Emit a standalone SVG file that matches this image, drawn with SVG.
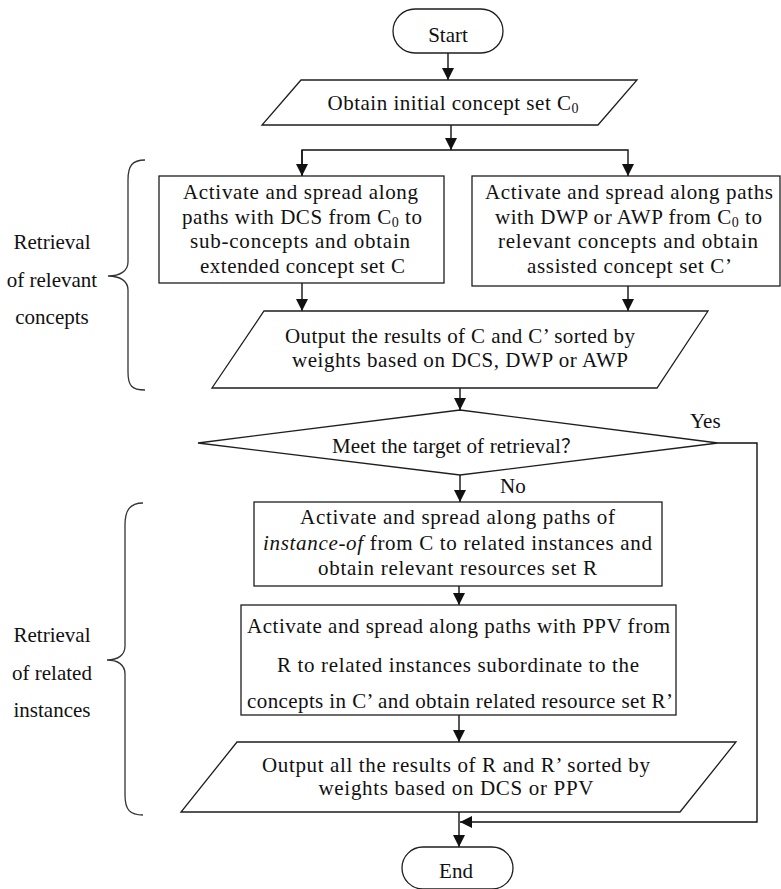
<svg xmlns="http://www.w3.org/2000/svg" width="781" height="889" viewBox="0 0 781 889">
  <style>
    .shape { fill: #ffffff; stroke: #1e1e1e; stroke-width: 1.3; }
    .edge { fill: none; stroke: #111111; stroke-width: 1.4; }
    .brace { fill: none; stroke: #333333; stroke-width: 1.3; }
    .c { text-anchor: middle; }
  </style>
  <defs>
    <marker id="arrow" markerUnits="userSpaceOnUse" markerWidth="12" markerHeight="13" refX="12" refY="6" orient="auto">
      <path d="M0,0 L12,6 L0,12 z" fill="#111111"/>
    </marker>
  </defs>

  <rect width="781" height="889" fill="#ffffff"/>

  <g font-family="Liberation Serif, Times New Roman, serif" font-size="21" fill="#111111">

  <!-- side braces and their labels -->
  <g id="brace-concepts">
    <path class="brace" d="M145,160 C132,160 128,166 128,180 L128,262 C128,271 120,276 108,276 C120,276 128,281 128,290 L128,372 C128,386 132,390 145,390"/>
    <text class="c" x="52" y="249">Retrieval</text>
    <text class="c" x="52" y="287">of relevant</text>
    <text class="c" x="52" y="324">concepts</text>
  </g>
  <g id="brace-instances">
    <path class="brace" d="M143,503 C130,503 125,510 125,525 L125,646 C125,655 118,660 107,660 C118,660 125,665 125,674 L125,795 C125,810 130,815 143,815"/>
    <text class="c" x="52" y="642">Retrieval</text>
    <text class="c" x="52" y="680">of related</text>
    <text class="c" x="52" y="717">instances</text>
  </g>

  <!-- connectors -->
  <g id="connectors">
    <line class="edge" x1="448" y1="53" x2="448" y2="80" marker-end="url(#arrow)"/>
    <line class="edge" x1="451" y1="125" x2="451" y2="150" marker-end="url(#arrow)"/>
    <polyline class="edge" points="302,176 302,150 628,150 628,176" marker-end="url(#arrow)"/>
    <line class="edge" x1="302" y1="150" x2="302" y2="176" marker-end="url(#arrow)"/>
    <line class="edge" x1="302" y1="283" x2="302" y2="311" marker-end="url(#arrow)"/>
    <line class="edge" x1="628" y1="286" x2="628" y2="311" marker-end="url(#arrow)"/>
    <line class="edge" x1="460" y1="388" x2="460" y2="410" marker-end="url(#arrow)"/>
    <line class="edge" x1="460" y1="475" x2="460" y2="502" marker-end="url(#arrow)"/>
    <line class="edge" x1="459" y1="586" x2="459" y2="605" marker-end="url(#arrow)"/>
    <line class="edge" x1="459" y1="715" x2="459" y2="742" marker-end="url(#arrow)"/>
    <line class="edge" x1="459" y1="812" x2="459" y2="847" marker-end="url(#arrow)"/>
    <polyline class="edge" points="718,443 757,443 757,822 460,822" marker-end="url(#arrow)"/>
    <text x="690" y="428">Yes</text>
    <text x="500" y="493">No</text>
  </g>

  <g id="start">
    <rect class="shape" x="393" y="9" width="110" height="44" rx="22" ry="22"/>
    <text class="c" x="448" y="42">Start</text>
  </g>

  <g id="obtain-initial">
    <polygon class="shape" points="301,80 637,80 598,125 262,125"/>
    <text class="c" x="453" y="110" textLength="251" lengthAdjust="spacing">Obtain initial concept set C<tspan font-size="14" dy="3">0</tspan></text>
  </g>

  <g id="spread-dcs">
    <rect class="shape" x="159" y="176" width="285" height="107"/>
    <text class="c" x="300.5" y="199" textLength="235" lengthAdjust="spacing">Activate and spread along</text>
    <text class="c" x="302" y="224" textLength="240" lengthAdjust="spacing">paths with DCS from C<tspan font-size="14" dy="3">0</tspan><tspan dy="-3"> to</tspan></text>
    <text class="c" x="300" y="248" textLength="220" lengthAdjust="spacing">sub-concepts and obtain</text>
    <text class="c" x="302.5" y="273" textLength="205" lengthAdjust="spacing">extended concept set C</text>
  </g>

  <g id="spread-dwp-awp">
    <rect class="shape" x="472" y="176" width="308" height="110"/>
    <text class="c" x="629" y="199" textLength="288" lengthAdjust="spacing">Activate and spread along paths</text>
    <text class="c" x="628.5" y="224" textLength="267" lengthAdjust="spacing">with DWP or AWP from C<tspan font-size="14" dy="3">0</tspan><tspan dy="-3"> to</tspan></text>
    <text class="c" x="628" y="248" textLength="260" lengthAdjust="spacing">relevant concepts and obtain</text>
    <text class="c" x="629.5" y="273" textLength="205" lengthAdjust="spacing">assisted concept set C’</text>
  </g>

  <g id="output-concepts">
    <polygon class="shape" points="264,311 708,311 657,388 212,388"/>
    <text class="c" x="460" y="343" textLength="350" lengthAdjust="spacing">Output the results of C and C’ sorted by</text>
    <text class="c" x="460" y="367" textLength="336" lengthAdjust="spacing">weights based on DCS, DWP or AWP</text>
  </g>

  <g id="target-check">
    <polygon class="shape" points="460,410 718,443 460,475 198,443"/>
    <text class="c" x="456" y="453" textLength="248" lengthAdjust="spacing">Meet the target of retrieval<tspan font-family="Noto Sans CJK SC, sans-serif" font-size="19">？</tspan></text>
  </g>

  <g id="spread-instance-of">
    <rect class="shape" x="254" y="502" width="408" height="84"/>
    <text class="c" x="457.5" y="524" textLength="315" lengthAdjust="spacing">Activate and spread along paths of</text>
    <text class="c" x="457.5" y="550" textLength="389" lengthAdjust="spacing"><tspan font-style="italic">instance-of</tspan> from C to related instances and</text>
    <text class="c" x="457.5" y="575" textLength="279" lengthAdjust="spacing">obtain relevant resources set R</text>
  </g>

  <g id="spread-ppv">
    <rect class="shape" x="241" y="605" width="435" height="110"/>
    <text class="c" x="458.5" y="633" textLength="423" lengthAdjust="spacing">Activate and spread along paths with PPV from</text>
    <text class="c" x="458" y="672" textLength="362" lengthAdjust="spacing">R to related instances subordinate to the</text>
    <text class="c" x="460" y="708" textLength="426" lengthAdjust="spacing">concepts in C’ and obtain related resource set R’</text>
  </g>

  <g id="output-resources">
    <polygon class="shape" points="237,742 736,742 680,812 181,812"/>
    <text class="c" x="456" y="772" textLength="388" lengthAdjust="spacing">Output all the results of R and R’ sorted by</text>
    <text class="c" x="456" y="795" textLength="275" lengthAdjust="spacing">weights based on DCS or PPV</text>
  </g>

  <g id="end">
    <rect class="shape" x="402" y="847" width="111" height="42" rx="21" ry="21"/>
    <text class="c" x="456" y="878">End</text>
  </g>

  </g>
</svg>
